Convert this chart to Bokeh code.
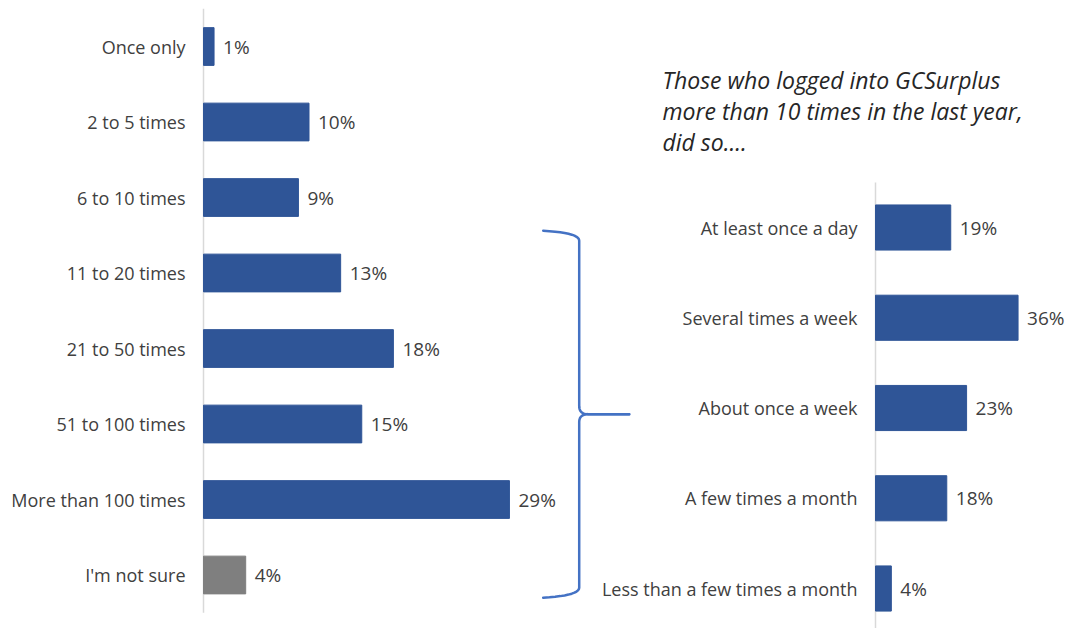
import numpy as np
from bokeh.plotting import figure
from bokeh.models import Range1d, ColumnDataSource, Label
from bokeh.embed import file_html
from bokeh.resources import INLINE
from bokeh.core.properties import value

# ---------------- data ----------------
left_cats = ["Once only", "2 to 5 times", "6 to 10 times", "11 to 20 times",
             "21 to 50 times", "51 to 100 times", "More than 100 times", "I'm not sure"]
left_vals = [1, 10, 9, 13, 18, 15, 29, 4]
left_colors = ["#2F5597"] * 7 + ["#7F7F7F"]

right_cats = ["At least once a day", "Several times a week", "About once a week",
              "A few times a month", "Less than a few times a month"]
right_vals = [19, 36, 23, 18, 4]

title_lines = ["Those who logged into GCSurplus",
               "more than 10 times in the last year,",
               "did so...."]

# ---------------- layout constants ----------------
W, H = 1072, 628
FONT = "Open Sans"
TXT = "#404040"
BLUE = "#2F5597"
BRACE = "#4472C4"

nl, nr = len(left_cats), len(right_cats)
ly = [nl - 1 - i for i in range(nl)]
ry = [nr - 1 - i for i in range(nr)]

# left scale: 10.55 px per %, zero at px 203 ; rows 75.5 px
kx1, ky1 = 10.55, 75.5
x1s = -203 / kx1
y1e = (nl - 1) + 46 / ky1
p = figure(width=W, height=H, output_backend="svg", toolbar_location=None,
           x_range=Range1d(x1s, x1s + W / kx1),
           y_range=Range1d(y1e - H / ky1, y1e),
           x_axis_type=None, y_axis_type=None, min_border=0)
p.outline_line_color = None
p.background_fill_color = "white"
p.border_fill_color = "white"

# right scale: 3.96 px per %, zero at px 875 ; rows 90.25 px
kx2, ky2 = 3.96, 90.25
x2s = -875 / kx2
y2e = (nr - 1) + 227 / ky2
p.extra_x_ranges = {"r": Range1d(x2s, x2s + W / kx2)}
p.extra_y_ranges = {"r": Range1d(y2e - H / ky2, y2e)}

src_l = ColumnDataSource(dict(y=ly, v=left_vals, c=left_colors, cat=left_cats,
                              lab=[f"{v}%" for v in left_vals]))
src_r = ColumnDataSource(dict(y=ry, v=right_vals, cat=right_cats,
                              lab=[f"{v}%" for v in right_vals]))

# axis lines
p.segment(x0=[0], x1=[0], y0=[-0.5], y1=[nl - 0.5], line_color="#D9D9D9", line_width=1.5)
p.segment(x0=[0], x1=[0], y0=[-0.7], y1=[nr - 0.5], line_color="#D9D9D9", line_width=1.5,
          x_range_name="r", y_range_name="r")

# bars
p.hbar(y="y", left=0, right="v", height=0.5, fill_color="c", line_color="c", source=src_l)
p.hbar(y="y", left=0, right="v", height=0.5, fill_color=BLUE, line_color=BLUE, source=src_r,
       x_range_name="r", y_range_name="r")

LBL = "18px"
VAL = "19px"
# category labels
p.text(x=0, y="y", text="cat", source=src_l, x_offset=-18, text_align="right",
       text_baseline="middle", text_font=value(FONT), text_font_size=LBL, text_color=TXT)
p.text(x=0, y="y", text="cat", source=src_r, x_offset=-18, text_align="right",
       text_baseline="middle", text_font=value(FONT), text_font_size=LBL, text_color=TXT,
       x_range_name="r", y_range_name="r")

# value labels
p.text(x="v", y="y", text="lab", source=src_l, x_offset=9, text_align="left",
       text_baseline="middle", text_font=value(FONT), text_font_size=VAL, text_color=TXT)
p.text(x="v", y="y", text="lab", source=src_r, x_offset=9, text_align="left",
       text_baseline="middle", text_font=value(FONT), text_font_size=VAL, text_color=TXT,
       x_range_name="r", y_range_name="r")

# brace (left-chart coordinates), spanning "11 to 20 times" .. "I'm not sure"
i_top = left_cats.index("11 to 20 times")
i_bot = left_cats.index("I'm not sure")
yt = ly[i_top] + 0.56
yb = ly[i_bot] - 0.30
ym = (yt + yb) / 2
xa = max(left_vals) + 3.2
xs = xa + 36 / kx1
xt = xa + 86 / kx1
rx, ry_ = 9 / kx1, 10 / ky1


def quad(p0, p1, p2, n=12):
    t = np.linspace(0, 1, n)[:, None]
    P0, P1, P2 = np.array(p0), np.array(p1), np.array(p2)
    return (1 - t) ** 2 * P0 + 2 * (1 - t) * t * P1 + t ** 2 * P2


def half(sign):
    # sign=+1 upper half, -1 lower half
    y_end = yt if sign > 0 else yb
    pts = [quad((xa, y_end), (xs, y_end - sign * 2 / ky1), (xs, y_end - sign * ry_)),
           quad((xs, ym + sign * ry_ * 0.8), (xs, ym), (xs + rx, ym)),
           np.array([[xt, ym]])]
    return np.vstack(pts)


up, lo = half(1), half(-1)
p.multi_line(xs=[list(up[:, 0]), list(lo[:, 0])], ys=[list(up[:, 1]), list(lo[:, 1])],
             line_color=BRACE, line_width=2.5, line_join="round", line_cap="round")

# annotation title
p.add_layout(Label(x=662, y=H - 63, x_units="screen", y_units="screen",
                   text="\n".join(title_lines), text_align="left", text_baseline="top",
                   text_font=FONT, text_font_style="italic", text_font_size="23px",
                   text_color="#262626", text_line_height=0.98))

open("out.html", "w").write(file_html(p, INLINE))
